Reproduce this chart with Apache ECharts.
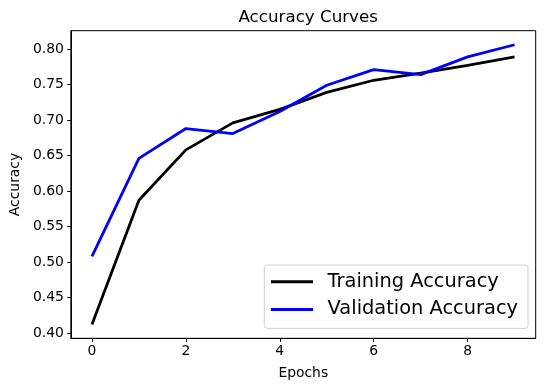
<!DOCTYPE html>
<html>
<head>
<meta charset="utf-8">
<script src="https://cdn.jsdelivr.net/npm/echarts@6/dist/echarts.min.js"></script>
<style>html,body{margin:0;padding:0;background:#fff}#c{width:545px;height:391px}</style>
</head>
<body>
<div id="c"></div>
<script>
const epochs = [0, 1, 2, 3, 4, 5, 6, 7, 8, 9];
const trainingAccuracy = [0.412, 0.587, 0.658, 0.696, 0.715, 0.739, 0.756, 0.766, 0.777, 0.789];
const validationAccuracy = [0.508, 0.646, 0.688, 0.681, 0.712, 0.749, 0.771, 0.764, 0.789, 0.806];
const xTicks = [0, 2, 4, 6, 8];
const yTicks = [0.40, 0.45, 0.50, 0.55, 0.60, 0.65, 0.70, 0.75, 0.80];

const FONT = 'DejaVu Sans';
const chart = echarts.init(document.getElementById('c'), null, {renderer: 'canvas'});
const pairs = arr => epochs.map((e, i) => [e, arr[i]]);
chart.setOption({
  animation: false,
  backgroundColor: '#ffffff',
  title: {
    text: 'Accuracy Curves',
    left: 303.2, top: 4, textAlign: 'center',
    textStyle: {fontFamily: FONT, fontSize: 16.7, fontWeight: 'normal', color: '#000'}
  },
  grid: {
    left: 70.7, right: 9.3, top: 30.7, bottom: 52.7,
    show: true, borderColor: '#000', borderWidth: 1, backgroundColor: 'transparent'
  },
  legend: {
    orient: 'vertical', left: 264.3, top: 265,
    padding: [6.7, 10, 9, 6.7],
    itemGap: 7.7, itemWidth: 42, itemHeight: 3, icon: 'rect',
    backgroundColor: 'rgba(255,255,255,0.8)', borderColor: '#d0d0d0', borderWidth: 1, borderRadius: 3,
    textStyle: {fontFamily: FONT, fontSize: 19.4, color: '#000', lineHeight: 20, padding: [0, 0, 0, 9.6]},
    data: ['Training Accuracy', 'Validation Accuracy']
  },
  xAxis: {
    type: 'value', min: -0.45, max: 9.45,
    name: 'Epochs', nameLocation: 'middle', nameGap: 28,
    nameTextStyle: {fontFamily: FONT, fontSize: 13.9, color: '#000'},
    axisLine: {show: true, onZero: false, lineStyle: {color: '#000', width: 1}},
    axisTick: {show: true, length: 3.5, inside: false, customValues: xTicks, lineStyle: {color: '#000', width: 1}},
    axisLabel: {customValues: xTicks, margin: 6, fontFamily: FONT, fontSize: 13.9, color: '#000'},
    splitLine: {show: false}
  },
  yAxis: {
    type: 'value', min: 0.3926, max: 0.8258,
    name: 'Accuracy', nameLocation: 'middle', nameGap: 47, nameRotate: 90,
    nameTextStyle: {fontFamily: FONT, fontSize: 13.9, color: '#000'},
    axisLine: {show: true, onZero: false, lineStyle: {color: '#000', width: 1}},
    axisTick: {show: true, length: 3.5, inside: false, customValues: yTicks, lineStyle: {color: '#000', width: 1}},
    axisLabel: {customValues: yTicks, margin: 7, fontFamily: FONT, fontSize: 13.9, color: '#000',
      formatter: v => v.toFixed(2)},
    splitLine: {show: false}
  },
  series: [
    {name: 'Training Accuracy', type: 'line', data: pairs(trainingAccuracy), showSymbol: false, symbol: 'none',
     color: '#000000', lineStyle: {color: '#000000', width: 2.8}, itemStyle: {color: '#000000'}},
    {name: 'Validation Accuracy', type: 'line', data: pairs(validationAccuracy), showSymbol: false, symbol: 'none',
     color: '#0000ff', lineStyle: {color: '#0000ff', width: 2.8}, itemStyle: {color: '#0000ff'}}
  ]
});
</script>
</body>
</html>
